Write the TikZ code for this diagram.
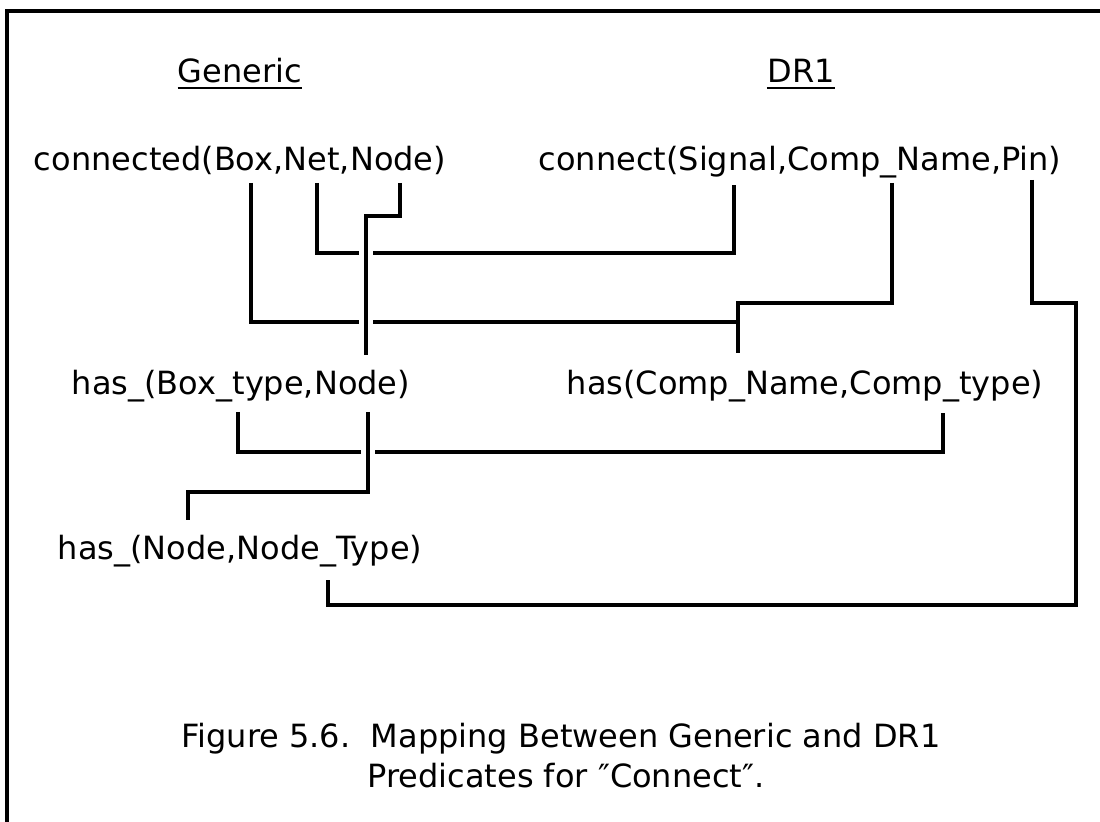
\documentclass[tikz,border=0pt]{standalone}
\usepackage{fontspec}
\setmainfont{DejaVu Sans}
\begin{document}
\begin{tikzpicture}[x=0.5pt,y=-0.5pt,
  lbl/.style={anchor=base,inner sep=0pt,font=\fontsize{16}{19}\selectfont},
  wire/.style={line width=2.3pt,line join=miter},
  over/.style={wire,preaction={draw=white,line width=7pt}},
  frame/.style={line width=1.8pt},
  uline/.style={line width=1.2pt}]
\useasboundingbox (0,0) rectangle (1100,822);
\fill[white] (0,0) rectangle (1100,822);

% open frame (left and top edges)
\draw[frame] (7,822) -- (7,11) -- (1100,11);

% column headings
\node[lbl] (gen) at (240,83) {Generic};
\node[lbl] (dr) at (801,83) {DR1};
\draw[uline] ([yshift=-2.5pt]gen.base west) -- ([yshift=-2.5pt]gen.base east);
\draw[uline] ([yshift=-2.5pt]dr.base west) -- ([yshift=-2.5pt]dr.base east);

% predicates
\node[lbl] (gconn) at (240,171) {connected(Box,Net,Node)};
\node[lbl] (dconn) at (800,171) {connect(Signal,Comp\_Name,Pin)};
\node[lbl] (ghas)  at (241,395) {has\_(Box\_type,Node)};
\node[lbl] (dhas)  at (805,395) {has(Comp\_Name,Comp\_type)};
\node[lbl] (gnode) at (240,560) {has\_(Node,Node\_Type)};

% caption
\node[lbl] (cap1) at (561,748) {Figure 5.6.\ \ Mapping Between Generic and DR1};
\node[lbl] (cap2) at (566,788) {Predicates for ″Connect″.};

% argument ports
\coordinate (pBox)   at (251,183);
\coordinate (pNet)   at (317,183);
\coordinate (pNode)  at (400,183);
\coordinate (pSig)   at (734,185);
\coordinate (pComp)  at (892,183);
\coordinate (pPin)   at (1032,180);
\coordinate (qNode)  at (366,355);
\coordinate (qComp)  at (738,353);
\coordinate (qBoxT)  at (238,412);
\coordinate (qNodeB) at (368,412);
\coordinate (qCompT) at (943,413);
\coordinate (rNode)  at (188,520);
\coordinate (rNodeT) at (328,580);

% routing levels
\coordinate (lvNode) at (0,216);
\coordinate (lvNet)  at (0,253);
\coordinate (lvComp) at (0,303);
\coordinate (lvBox)  at (0,322);
\coordinate (lvBT)   at (0,452);
\coordinate (lvNB)   at (0,492);
\coordinate (lvPin)  at (0,605);
\coordinate (xPin)   at (1076,0);

% Net <-> Signal
\draw[wire] (pNet) -- (pNet |- lvNet) -- (pSig |- lvNet) -- (pSig);
% Comp_Name <-> has(Comp_Name, ...) with Box joining it
\draw[wire] (pComp) -- (pComp |- lvComp) -- (qComp |- lvComp) -- (qComp);
\draw[wire] (pBox) -- (pBox |- lvBox) -- (qComp |- lvBox);
% Box_type <-> Comp_type
\draw[wire] (qBoxT) -- (qBoxT |- lvBT) -- (qCompT |- lvBT) -- (qCompT);
% Pin <-> Node_Type
\draw[wire] (pPin) -- (pPin |- lvComp) -- (xPin |- lvComp) -- (xPin |- lvPin)
  -- (rNodeT |- lvPin) -- (rNodeT);
% Node links, crossing over the horizontal runs
\draw[over] (pNode) -- (pNode |- lvNode) -- (qNode |- lvNode) -- (qNode);
\draw[over] (qNodeB) -- (qNodeB |- lvNB) -- (rNode |- lvNB) -- (rNode);
\end{tikzpicture}
\end{document}
